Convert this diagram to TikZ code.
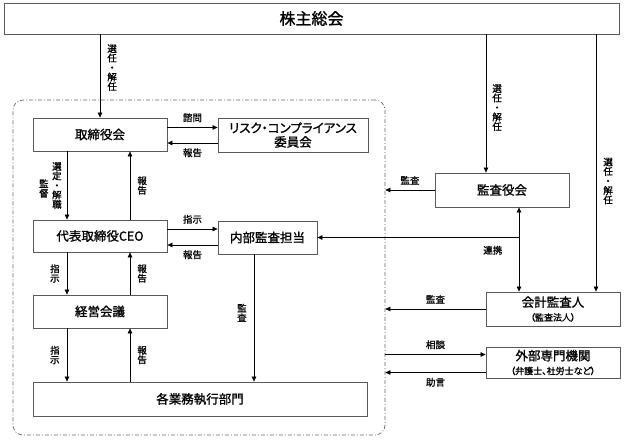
\documentclass[tikz,border=0pt]{standalone}
\usepackage{fontspec}
\setmainfont{Noto Sans CJK JP}[RawFeature=+palt, AutoFakeBold=1.2]
\usetikzlibrary{arrows.meta,positioning,fit}

\begin{document}
\begin{tikzpicture}[
    x=1pt, y=-1pt,
    box/.style={
        draw=black!65,
        line width=0.8pt,
        minimum width=#1,
        minimum height=33pt,
        inner sep=0pt,
        align=center,
        font=\bfseries\fontsize{12.5}{14}\selectfont
    },
    box/.default=134pt,
    lbl/.style={inner sep=0pt, align=center, font=\bfseries\fontsize{9.5}{9.5}\selectfont},
    arr/.style={-{Triangle[length=5pt,width=4.5pt]}, line width=0.7pt},
    dbl/.style={{Triangle[length=5pt,width=4.5pt]}-{Triangle[length=5pt,width=4.5pt]}, line width=0.7pt},
    grp/.style={draw=black!60, line width=0.7pt, dash pattern=on 4pt off 2pt on 1pt off 2pt,
        rounded corners=10pt, inner sep=0pt}
]
  \useasboundingbox (0,0) rectangle (624,441);

  \node[box=615pt, minimum height=31pt, font=\bfseries\fontsize{16}{18}\selectfont] (gm) at (311.5,18.5) {株主総会};
  \node[grp, fit={(13,100) (385,435)}] (grp) {};

  \node[box] (board) at (100,134.5) {取締役会};
  \node[box=150pt, minimum height=34pt] (risk) at (293,135) {リスク・コンプライアンス\\委員会};
  \node[box, minimum height=32pt] (ceo) at (100,236) {代表取締役CEO};
  \node[box=99pt] (audit) at (267.5,237.5) {内部監査担当};
  \node[box] (mgmt) at (100,311.5) {経営会議};
  \node[box=334pt, minimum height=34pt] (dept) at (200,399) {各業務執行部門};

  \node[box, minimum height=34pt] (kansa) at (502,190) {監査役会};
  \node[box, minimum height=34pt] (acct) at (553,309) {会計監査人\\{\fontsize{9}{10}\selectfont （監査法人）}};
  \node[box, minimum height=31pt] (ext) at (553,362.5) {外部専門機関\\{\fontsize{9}{10}\selectfont （弁護士、社労士など）}};

  \coordinate (lx) at (67,0);
  \coordinate (rx) at (130,0);
  \coordinate (dx) at (254,0);
  \coordinate (kx) at (486,0);
  \coordinate (vx) at (519,0);
  \coordinate (cx) at (596,0);

  \draw[arr] (gm.south -| board.north) -- node[lbl, pos=0.4, right=7pt] {選\\任\\・\\解\\任} (board.north);
  \draw[arr] ([yshift=7pt]board.east) -- node[lbl, above=5pt] {諮問} ([yshift=7pt]board.east -| risk.west);
  \draw[arr] ([yshift=-8pt]risk.west) -- node[lbl, below=5pt] {報告} ([yshift=-8pt]risk.west -| board.east);

  \draw[arr] (board.south -| lx) -- node[lbl, left=5pt] (sel) {選\\定\\・\\解\\職} (ceo.north -| lx);
  \node[lbl, left=3pt of sel, yshift=-3pt] (sup) {監\\督};
  \draw[arr] (ceo.north -| rx) -- node[lbl, right=7pt] {報\\告} (board.south -| rx);

  \draw[arr] ([yshift=7pt]ceo.east) -- node[lbl, above=5pt] {指示} ([yshift=7pt]ceo.east -| audit.west);
  \draw[arr] ([yshift=-7.5pt]audit.west) -- node[lbl, below=5pt] {報告} ([yshift=-7.5pt]audit.west -| ceo.east);

  \draw[arr] (ceo.south -| lx) -- node[lbl, left=7pt] {指\\示} (mgmt.north -| lx);
  \draw[arr] (mgmt.north -| rx) -- node[lbl, right=7pt] {報\\告} (ceo.south -| rx);
  \draw[arr] (mgmt.south -| lx) -- node[lbl, left=7pt] {指\\示} (dept.north -| lx);
  \draw[arr] (dept.north -| rx) -- node[lbl, right=7pt] {報\\告} (mgmt.south -| rx);
  \draw[arr] (audit.south -| dx) -- node[lbl, pos=0.46, left=7pt] {監\\査} (dept.north -| dx);

  \draw[arr] (gm.south -| kx) -- node[lbl, pos=0.53, right=6pt] {選\\任\\・\\解\\任} (kansa.north -| kx);
  \draw[arr] (gm.south -| cx) -- node[lbl, pos=0.57, right=7pt] {選\\任\\・\\解\\任} (acct.north -| cx);
  \draw[arr] (kansa.west) -- node[lbl, above=5pt] {監査} (kansa.west -| grp.east);
  \draw[dbl] (kansa.south -| vx) -- (acct.north -| vx);
  \draw[arr] (vx |- audit.east) -- node[lbl, pos=0.13, below=8pt] {連携} (audit.east);
  \draw[arr] (acct.west) -- node[lbl, above=5pt] {監査} (acct.west -| grp.east);
  \draw[arr] ([yshift=8pt]ext.west -| grp.east) -- node[lbl, above=5pt] {相談} ([yshift=8pt]ext.west);
  \draw[arr] ([yshift=-10pt]ext.west) -- node[lbl, below=5pt] {助言} ([yshift=-10pt]ext.west -| grp.east);
\end{tikzpicture}
\end{document}
